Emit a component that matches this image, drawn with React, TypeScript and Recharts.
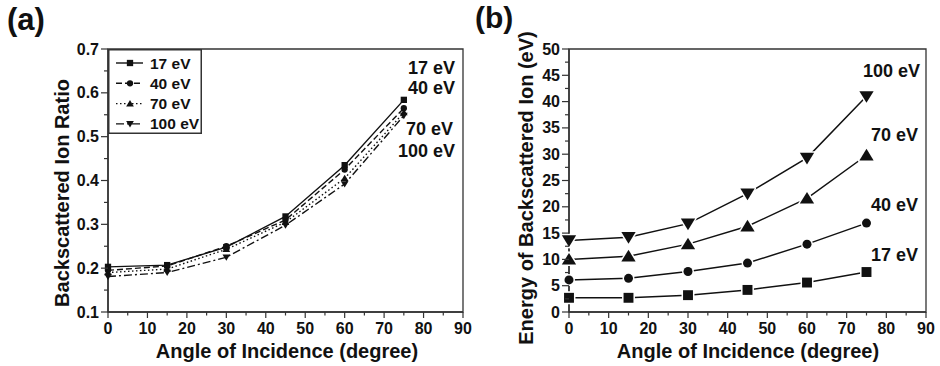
import React from 'react';
import { LineChart, Line, XAxis, YAxis, Legend, ReferenceArea } from 'recharts';

// Incidence angles (degree) shared by both panels
const angles = [0, 15, 30, 45, 60, 75];
const energyLabels = ['17 eV', '40 eV', '70 eV', '100 eV'];

// (a) backscattered ion ratio
const ratio17 = [0.203, 0.207, 0.248, 0.318, 0.435, 0.584];
const ratio40 = [0.195, 0.205, 0.25, 0.31, 0.425, 0.565];
const ratio70 = [0.19, 0.198, 0.243, 0.305, 0.405, 0.555];
const ratio100 = [0.181, 0.19, 0.225, 0.298, 0.392, 0.548];

// (b) energy of backscattered ion (eV)
const energy17 = [2.7, 2.7, 3.2, 4.2, 5.6, 7.6];
const energy40 = [6.1, 6.4, 7.7, 9.3, 12.9, 16.9];
const energy70 = [10.0, 10.6, 12.9, 16.3, 21.6, 29.8];
const energy100 = [13.6, 14.2, 16.8, 22.5, 29.3, 41.0];

// Axis ticks (major + minor)
const angleTicks = [0, 5, 10, 15, 20, 25, 30, 35, 40, 45, 50, 55, 60, 65, 70, 75, 80, 85, 90];
const ratioTicks = [0.1, 0.15, 0.2, 0.25, 0.3, 0.35, 0.4, 0.45, 0.5, 0.55, 0.6, 0.65, 0.7];
const energyTicks = [0, 2.5, 5, 7.5, 10, 12.5, 15, 17.5, 20, 22.5, 25, 27.5, 30, 32.5, 35, 37.5, 40, 42.5, 45, 47.5, 50];

const FONT = '"Liberation Sans", Arial, Helvetica, sans-serif';
const INK = '#111';
const AXIS = '#333';

const keys = ['e17', 'e40', 'e70', 'e100'];

const ratioData = angles.map((a, i) => ({
  angle: a,
  e17: ratio17[i],
  e40: ratio40[i],
  e70: ratio70[i],
  e100: ratio100[i],
}));

const energyData = angles.map((a, i) => ({
  angle: a,
  e17: energy17[i],
  e40: energy40[i],
  e70: energy70[i],
  e100: energy100[i],
}));

type Shape = 'square' | 'circle' | 'up' | 'down';
const shapes: Shape[] = ['square', 'circle', 'up', 'down'];
const dashes = [undefined, '6 3', '1.5 2.5', '8 3 2 3'];

const Marker = ({ shape, cx, cy, size, halo }: { shape: Shape; cx: number; cy: number; size: number; halo: boolean }) => {
  const common: any = {
    fill: INK,
    stroke: halo ? '#fff' : 'none',
    strokeWidth: halo ? 3 : 0,
    strokeLinejoin: 'round',
    paintOrder: 'stroke',
  };
  const h = size / 2;
  switch (shape) {
    case 'square':
      return <rect x={cx - h * 0.9} y={cy - h * 0.9} width={size * 0.9} height={size * 0.9} {...common} />;
    case 'circle':
      return <circle cx={cx} cy={cy} r={h * 0.9} {...common} />;
    case 'up':
      return <polygon points={`${cx},${cy - h} ${cx + h * 1.1},${cy + h * 0.8} ${cx - h * 1.1},${cy + h * 0.8}`} {...common} />;
    default:
      return <polygon points={`${cx},${cy + h} ${cx + h * 1.1},${cy - h * 0.8} ${cx - h * 1.1},${cy - h * 0.8}`} {...common} />;
  }
};

const makeDot = (shape: Shape, size: number, halo: boolean) => (props: any) => {
  const { cx, cy, index } = props;
  if (cx == null || cy == null) return <g key={`d-${index}`} />;
  return <Marker key={`d-${index}`} shape={shape} cx={cx} cy={cy} size={size} halo={halo} />;
};

const isMultiple = (v: number, step: number) => Math.abs(v / step - Math.round(v / step)) < 1e-6;

const XTick = (props: any) => {
  const { x, y, payload } = props;
  const major = isMultiple(payload.value, 10);
  return (
    <g>
      <line x1={x} x2={x} y1={y} y2={y + (major ? 6 : 3.5)} stroke={AXIS} strokeWidth={1.2} />
      {major && (
        <text x={x} y={y + 22} textAnchor="middle" fontFamily={FONT} fontWeight="bold" fontSize={16} fill={INK}>
          {payload.value}
        </text>
      )}
    </g>
  );
};

const makeYTick = (step: number, digits: number) => (props: any) => {
  const { x, y, payload } = props;
  const major = isMultiple(payload.value, step);
  return (
    <g>
      <line x1={x} x2={x - (major ? 7 : 4)} y1={y} y2={y} stroke={AXIS} strokeWidth={1.2} />
      {major && (
        <text x={x - 9} y={y + 5.5} textAnchor="end" fontFamily={FONT} fontWeight="bold" fontSize={16} fill={INK}>
          {payload.value.toFixed(digits)}
        </text>
      )}
    </g>
  );
};

const RatioTick = makeYTick(0.1, 1);
const EnergyTick = makeYTick(5, 0);

// Legend box, entries kept in series order
const LegendBox = (props: any) => {
  const payload = [...(props.payload ?? [])].sort(
    (a: any, b: any) => keys.indexOf(String(a.dataKey)) - keys.indexOf(String(b.dataKey)),
  );
  return (
    <svg width={94} height={85} style={{ display: 'block' }}>
      <rect x={0.75} y={0.75} width={92.5} height={83.5} fill="#fff" stroke={AXIS} strokeWidth={1.5} />
      {payload.map((entry: any, i: number) => {
        const idx = keys.indexOf(String(entry.dataKey));
        const yc = 14 + i * 20.3;
        return (
          <g key={`lg-${i}`}>
            <line x1={8} x2={35} y1={yc} y2={yc} stroke={INK} strokeWidth={1.4} strokeDasharray={dashes[idx]} />
            <Marker shape={shapes[idx]} cx={22} cy={yc} size={7} halo={false} />
            <text x={42} y={yc + 5.5} fontFamily={FONT} fontWeight="bold" fontSize={15.5} fill={INK}>
              {entry.value}
            </text>
          </g>
        );
      })}
    </svg>
  );
};

const txt = { fontFamily: FONT, fontWeight: 'bold' as const, fill: INK };

const RatioPanel = () => (
  <LineChart width={480} height={366} data={ratioData} margin={{ top: 49, right: 17, bottom: 0, left: 0 }}>
    <ReferenceArea x1={0} x2={90} y1={0.1} y2={0.7} fill="none" stroke={AXIS} strokeWidth={1.3} />
    <XAxis
      dataKey="angle"
      type="number"
      domain={[0, 90]}
      ticks={angleTicks}
      interval={0}
      height={54}
      tickSize={0}
      tickMargin={0}
      tickLine={false}
      axisLine={{ stroke: AXIS, strokeWidth: 1.5 }}
      tick={<XTick />}
    />
    <YAxis
      type="number"
      domain={[0.1, 0.7]}
      ticks={ratioTicks}
      interval={0}
      width={108}
      tickSize={0}
      tickMargin={0}
      tickLine={false}
      axisLine={{ stroke: AXIS, strokeWidth: 1.5 }}
      tick={<RatioTick />}
    />
    {keys.map((k, i) => (
      <Line
        key={k}
        dataKey={k}
        name={energyLabels[i]}
        type="linear"
        stroke={INK}
        strokeWidth={1.4}
        strokeDasharray={dashes[i]}
        dot={makeDot(shapes[i], 7, false)}
        isAnimationActive={false}
      />
    ))}
    <Legend
      layout="vertical"
      align="center"
      verticalAlign="middle"
      content={<LegendBox />}
      wrapperStyle={{ position: 'absolute', left: 108, top: 49, width: 94, height: 85 }}
    />
    <text x={7} y={30} {...txt} fontSize={31}>(a)</text>
    <text x={455} y={74} textAnchor="end" {...txt} fontSize={18}>{energyLabels[0]}</text>
    <text x={455} y={94} textAnchor="end" {...txt} fontSize={18}>{energyLabels[1]}</text>
    <text x={453} y={135} textAnchor="end" {...txt} fontSize={18}>{energyLabels[2]}</text>
    <text x={455} y={157} textAnchor="end" {...txt} fontSize={18}>{energyLabels[3]}</text>
    <text x={287} y={358} textAnchor="middle" {...txt} fontSize={20}>Angle of Incidence (degree)</text>
    <text transform="translate(62,193) rotate(-90)" textAnchor="middle" dominantBaseline="central" {...txt} fontSize={20}>
      Backscattered Ion Ratio
    </text>
  </LineChart>
);

const EnergyPanel = () => (
  <LineChart width={470} height={366} data={energyData} margin={{ top: 49, right: 14, bottom: 0, left: 0 }}>
    <ReferenceArea x1={0} x2={90} y1={0} y2={50} fill="none" stroke={AXIS} strokeWidth={1.3} />
    <XAxis
      dataKey="angle"
      type="number"
      domain={[0, 90]}
      ticks={angleTicks}
      interval={0}
      height={54}
      tickSize={0}
      tickMargin={0}
      tickLine={false}
      axisLine={{ stroke: AXIS, strokeWidth: 1.5 }}
      tick={<XTick />}
    />
    <YAxis
      type="number"
      domain={[0, 50]}
      ticks={energyTicks}
      interval={0}
      width={99}
      tickSize={0}
      tickMargin={0}
      tickLine={false}
      axisLine={{ stroke: AXIS, strokeWidth: 1.5 }}
      tick={<EnergyTick />}
    />
    {keys.map((k, i) => (
      <Line
        key={k}
        dataKey={k}
        name={energyLabels[i]}
        type="linear"
        stroke={INK}
        strokeWidth={1.5}
        dot={makeDot(shapes[i], i === 0 ? 11 : i === 1 ? 10 : 13, true)}
        isAnimationActive={false}
      />
    ))}
    <text x={5} y={27.5} {...txt} fontSize={30}>(b)</text>
    <text x={450} y={77} textAnchor="end" {...txt} fontSize={18}>{energyLabels[3]}</text>
    <text x={448} y={141} textAnchor="end" {...txt} fontSize={18}>{energyLabels[2]}</text>
    <text x={448} y={211} textAnchor="end" {...txt} fontSize={18}>{energyLabels[1]}</text>
    <text x={448} y={261} textAnchor="end" {...txt} fontSize={18}>{energyLabels[0]}</text>
    <text x={278} y={358} textAnchor="middle" {...txt} fontSize={20}>Angle of Incidence (degree)</text>
    <text transform="translate(56,188) rotate(-90)" textAnchor="middle" dominantBaseline="central" {...txt} fontSize={20}>
      Energy of Backscattered Ion (eV)
    </text>
  </LineChart>
);

export default function App() {
  return (
    <div style={{ position: 'absolute', left: 0, top: 0, width: 940, height: 366, background: '#fff', overflow: 'hidden' }}>
      <div style={{ position: 'absolute', left: 0, top: 0 }}>
        <RatioPanel />
      </div>
      <div style={{ position: 'absolute', left: 470, top: 0 }}>
        <EnergyPanel />
      </div>
    </div>
  );
}
